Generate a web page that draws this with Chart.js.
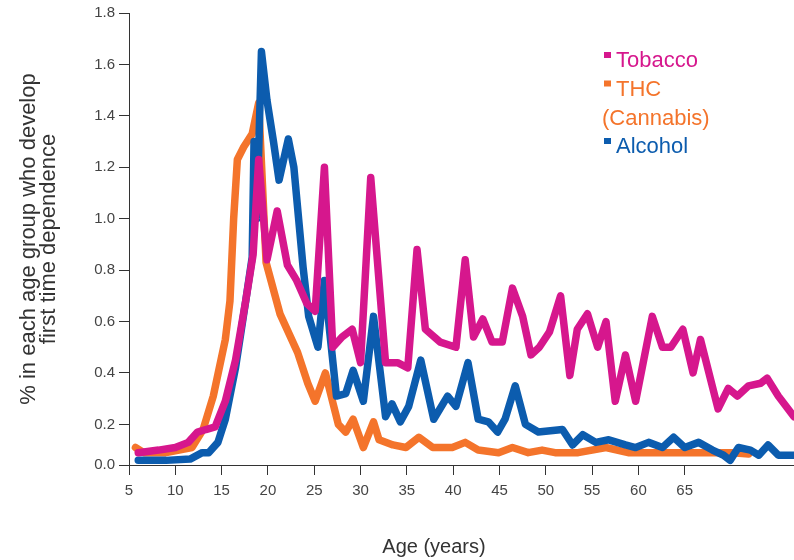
<!DOCTYPE html>
<html>
<head>
<meta charset="utf-8">
<script src="https://cdn.jsdelivr.net/npm/chart.js@4.4.0/dist/chart.umd.min.js"></script>
<style>
  html, body { margin: 0; padding: 0; background: #fff; }
</style>
</head>
<body>
<canvas id="chart" width="794" height="560"></canvas>
<script>
// ages (years) and % values
const tobaccoAges = [6, 8.2, 10, 11.4, 12.4, 13.3, 14.3, 15.4, 16.5, 17.6, 18.4, 19, 19.9, 21, 22.1, 23.1, 24.2, 25.1, 26.1, 27, 28, 29.1, 30, 31.1, 32.7, 34, 35.1, 36.1, 37, 38.6, 40.3, 41.3, 42.2, 43.2, 44.2, 45.3, 46.4, 47.5, 48.4, 49.3, 50.4, 51.6, 52.6, 53.4, 54.5, 55.6, 56.5, 57.5, 58.6, 59.7, 61.5, 62.6, 63.5, 64.8, 65.9, 66.7, 68.6, 69.7, 70.7, 71.9, 73.2, 73.9, 75.1, 76.8];
const tobaccoValues = [0.09, 0.10, 0.11, 0.13, 0.17, 0.18, 0.19, 0.29, 0.45, 0.68, 0.86, 1.23, 0.84, 1.03, 0.82, 0.76, 0.67, 0.64, 1.20, 0.50, 0.54, 0.57, 0.44, 1.16, 0.44, 0.44, 0.42, 0.88, 0.57, 0.52, 0.50, 0.84, 0.54, 0.61, 0.52, 0.52, 0.73, 0.62, 0.47, 0.50, 0.56, 0.70, 0.39, 0.57, 0.63, 0.50, 0.60, 0.29, 0.47, 0.29, 0.62, 0.50, 0.50, 0.57, 0.40, 0.53, 0.26, 0.34, 0.31, 0.35, 0.36, 0.38, 0.31, 0.23];

const thcAges = [5.7, 6.6, 9, 11.8, 13, 14.1, 15.4, 15.9, 16.3, 16.7, 17.4, 18.3, 19, 19.8, 21.3, 23.2, 24.3, 25.1, 26.2, 27.6, 28.4, 29.2, 30.3, 31.4, 32, 33.5, 34.9, 36.3, 37.8, 39.9, 41.3, 42.7, 44.9, 46.4, 48.1, 49.6, 51, 53.5, 56.5, 58.9, 65, 70.2, 71.9];
const thcValues = [0.11, 0.09, 0.09, 0.11, 0.18, 0.31, 0.53, 0.68, 1.0, 1.23, 1.28, 1.33, 1.45, 0.83, 0.63, 0.48, 0.36, 0.29, 0.40, 0.20, 0.17, 0.22, 0.11, 0.21, 0.14, 0.12, 0.11, 0.15, 0.11, 0.11, 0.13, 0.10, 0.09, 0.11, 0.09, 0.10, 0.09, 0.09, 0.11, 0.09, 0.09, 0.09, 0.085];

const alcoholAges = [6, 9, 11.6, 12.9, 13.6, 14.6, 15.4, 16.5, 17.6, 18.3, 18.5, 18.8, 19.3, 19.9, 20.6, 21.2, 22.2, 22.8, 23.8, 24.4, 25.4, 26.1, 26.7, 27.4, 28.4, 29.2, 30.3, 31.4, 32.7, 33.4, 34.3, 35.2, 36.5, 37.9, 39.4, 40.3, 41.6, 42.7, 43.8, 44.8, 45.6, 46.7, 47.8, 49.2, 51.8, 52.9, 54, 55.4, 56.8, 58.6, 59.7, 61.1, 62.6, 63.8, 65, 66.5, 68, 69.2, 69.9, 70.8, 72.1, 73, 74, 75.1, 76.8];
const alcoholValues = [0.06, 0.06, 0.065, 0.09, 0.09, 0.13, 0.22, 0.42, 0.68, 0.85, 1.30, 1.0, 1.65, 1.46, 1.30, 1.15, 1.31, 1.20, 0.81, 0.62, 0.50, 0.76, 0.55, 0.31, 0.32, 0.41, 0.29, 0.62, 0.23, 0.28, 0.21, 0.27, 0.45, 0.22, 0.31, 0.27, 0.44, 0.22, 0.21, 0.17, 0.22, 0.35, 0.20, 0.17, 0.18, 0.12, 0.16, 0.13, 0.14, 0.12, 0.11, 0.13, 0.11, 0.15, 0.11, 0.13, 0.10, 0.08, 0.06, 0.11, 0.10, 0.08, 0.12, 0.08, 0.08];

const seriesLabels = ["Tobacco", "THC\n(Cannabis)", "Alcohol"];
const seriesColors = ["#d6178d", "#f4742b", "#0c5cae"];

const xTicks = [5, 10, 15, 20, 25, 30, 35, 40, 45, 50, 55, 60, 65];
const yTicks = [0, 0.2, 0.4, 0.6, 0.8, 1.0, 1.2, 1.4, 1.6, 1.8];
const xTitle = "Age (years)";
const yTitle = ["% in each age group who develop", "first time dependence"];

// the x axis of the original sits a little above its 0.0 step
const yBase = 0.042;

const FONT = "'Liberation Sans', Arial, sans-serif";

function pts(ages, vals) {
  return ages.map((a, i) => ({ x: a, y: vals[i] }));
}

const datasets = [
  { label: seriesLabels[0], data: pts(tobaccoAges, tobaccoValues), order: 1 },
  { label: seriesLabels[1], data: pts(thcAges, thcValues), order: 3 },
  { label: seriesLabels[2], data: pts(alcoholAges, alcoholValues), order: 2 },
].map((d, i) => Object.assign(d, {
  borderColor: seriesColors[i],
  backgroundColor: seriesColors[i],
  borderWidth: 7.5,
  borderJoinStyle: "round",
  borderCapStyle: "round",
  pointRadius: 0,
  tension: 0,
  fill: false,
}));

// legend as coloured text in the upper right, plus the x title (sits left of centre in the original)
const textLegend = {
  id: "textLegend",
  afterDraw(chart) {
    const ctx = chart.ctx;
    ctx.save();
    ctx.font = "22px " + FONT;
    ctx.textBaseline = "alphabetic";
    let y = 67;
    chart.data.datasets.forEach((ds) => {
      const lines = ds.label.split("\n");
      lines.forEach((line, j) => {
        ctx.fillStyle = ds.borderColor;
        if (j === 0) {
          ctx.fillRect(604, y - 15, 7, 6);
          ctx.fillText(line, 616, y);
        } else {
          ctx.fillText(line, 602, y);
        }
        y += j === 0 && lines.length > 1 ? 29 : 28.5;
      });
    });

    ctx.font = "20px " + FONT;
    ctx.fillStyle = "#333";
    ctx.textAlign = "center";
    ctx.textBaseline = "middle";
    ctx.fillText(xTitle, 434, 547);
    ctx.restore();
  },
};

new Chart(document.getElementById("chart"), {
  type: "line",
  data: { datasets },
  plugins: [textLegend],
  options: {
    responsive: false,
    animation: false,
    devicePixelRatio: 1,
    layout: { padding: { top: 12, right: 0, bottom: 0, left: 0 } },
    plugins: {
      legend: { display: false },
      tooltip: { enabled: false },
    },
    scales: {
      x: {
        type: "linear",
        min: 5,
        max: 76.8,
        afterBuildTicks: (axis) => { axis.ticks = xTicks.map((v) => ({ value: v })); },
        afterFit: (s) => { s.height = 95; },
        ticks: { font: { family: FONT, size: 15 }, color: "#444", padding: 7, maxRotation: 0, autoSkip: false },
        grid: { drawOnChartArea: false, drawTicks: true, tickLength: 10, color: "#333" },
        border: { color: "#333", width: 1 },
        title: { display: false },
      },
      y: {
        min: yBase,
        max: 1.8,
        afterBuildTicks: (axis) => { axis.ticks = yTicks.map((v) => ({ value: Math.max(v, yBase) })); },
        afterFit: (s) => { s.width = 129; },
        ticks: {
          font: { family: FONT, size: 15 },
          color: "#444",
          padding: 4,
          callback: (v) => (v < 0.1 ? "0.0" : v.toFixed(1)),
        },
        grid: { drawOnChartArea: false, drawTicks: true, tickLength: 10, color: "#333" },
        border: { color: "#333", width: 1 },
        title: {
          display: true,
          text: yTitle,
          font: { family: FONT, size: 22, lineHeight: 0.92 },
          color: "#333",
          padding: { top: 19, bottom: 0 },
        },
      },
    },
  },
});
</script>
</body>
</html>
